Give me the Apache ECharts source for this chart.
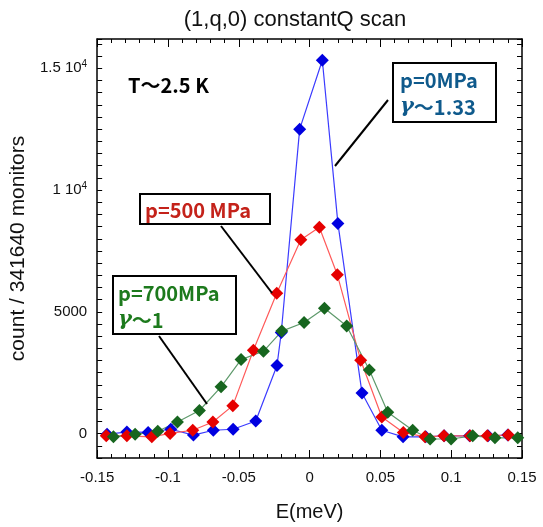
<!DOCTYPE html>
<html><head><meta charset="utf-8">
<script src="https://cdn.jsdelivr.net/npm/echarts@6/dist/echarts.min.js"></script>
<style>html,body{margin:0;padding:0;background:#fff}#c{width:543px;height:527px}</style>
</head><body><div id="c"></div>
<script>
// ---- data ----
const xTickValues = [-0.15, -0.1, -0.05, 0, 0.05, 0.1, 0.15];
const yTickValues = [0, 5000, 10000, 15000];
const yTickLabels = ['0', '5000', '1 10{s|4}', '1.5 10{s|4}'];

const E_0MPa = [-0.143, -0.129, -0.114, -0.098, -0.082, -0.068, -0.054, -0.038, -0.023, -0.020, -0.007, 0.009, 0.020, 0.037, 0.051, 0.066, 0.082, 0.095, 0.113, 0.126, 0.140];
const I_0MPa = [-30, 70, 50, 180, -60, 140, 180, 520, 2800, 4150, 12500, 15330, 8630, 1670, 140, -130, -130, -90, -90, -90, -60];

const E_500MPa = [-0.1436, -0.129, -0.1114, -0.0985, -0.0825, -0.0683, -0.0542, -0.0397, -0.0232, -0.0062, 0.0069, 0.0196, 0.0361, 0.051, 0.0662, 0.0815, 0.0949, 0.1133, 0.1255, 0.1403];
const I_500MPa = [-90, -90, -130, 10, 140, 480, 1150, 3420, 5760, 7960, 8470, 6520, 3010, 680, 50, -130, -90, -90, -90, -60];

const E_700MPa = [-0.1385, -0.1232, -0.1072, -0.0933, -0.0778, -0.0625, -0.0484, -0.0326, -0.0196, -0.0039, 0.0105, 0.0262, 0.0422, 0.0552, 0.0728, 0.0851, 0.0999, 0.1152, 0.1309, 0.147];
const I_700MPa = [-130, -30, 100, 480, 950, 1920, 3040, 3380, 4210, 4560, 5150, 4420, 2610, 880, 140, -220, -220, -90, -170, -170];

const zip = (a, b) => a.map((v, i) => [v, b[i]]);

const chart = echarts.init(document.getElementById('c'), null, {renderer: 'canvas'});
const FONT = 'Liberation Sans';
const ANN = '"Noto Sans CJK JP"';

function xAxisCfg(pos, showLabel) {
  return {
    type: 'value', position: pos, min: -0.15, max: 0.15, interval: 0.05,
    axisLine: {show: true, onZero: false, lineStyle: {color: '#000', width: 1.5}},
    axisTick: {show: true, inside: true, length: 8, lineStyle: {color: '#000', width: 1}},
    minorTick: {show: true, splitNumber: 5, length: 4, lineStyle: {color: '#000', width: 1}},
    splitLine: {show: false},
    axisLabel: {show: showLabel, margin: 12, color: '#111', fontFamily: FONT, fontSize: 15,
      formatter: v => { const m = xTickValues.find(t => Math.abs(t - v) < 1e-9); return m === undefined ? '' : String(m); }},
    name: showLabel ? 'E(meV)' : '', nameLocation: 'middle', nameGap: 44,
    nameTextStyle: {color: '#111', fontFamily: FONT, fontSize: 20}
  };
}
function yAxisCfg(pos, showLabel) {
  return {
    type: 'value', position: pos, min: -1000, max: 16200, interval: 500,
    axisLine: {show: true, onZero: false, lineStyle: {color: '#000', width: 1.5}},
    axisTick: {show: true, inside: true, length: 5, lineStyle: {color: '#000', width: 1}},
    splitLine: {show: false},
    axisLabel: {show: showLabel, margin: 10, color: '#111', fontFamily: FONT, fontSize: 15,
      formatter: v => { const i = yTickValues.indexOf(Math.round(v)); return i < 0 ? '' : yTickLabels[i]; },
      rich: {s: {fontSize: 10, fontFamily: FONT, color: '#111', padding: [0, 0, 8, 0]}}},
    name: showLabel ? 'count / 341640 monitors' : '', nameLocation: 'middle', nameGap: 62,
    nameTextStyle: {color: '#111', fontFamily: FONT, fontSize: 21}
  };
}

function series(name, data, lineColor, markColor) {
  return {
    name, type: 'line', data, xAxisIndex: 0, yAxisIndex: 0,
    symbol: 'diamond', symbolSize: [13, 13], showSymbol: true,
    lineStyle: {color: lineColor, width: 1.2},
    itemStyle: {color: markColor, borderWidth: 0},
    emphasis: {disabled: true}, animation: false
  };
}

function box(x, y, w, h) {
  return {type: 'rect', shape: {x, y, width: w, height: h}, style: {fill: '#fff', stroke: '#000', lineWidth: 2}, z: 100};
}
function label(x, y, text, color) {
  return {type: 'text', x, y, style: {text, fill: color, font: 'bold 20px ' + ANN, textVerticalAlign: 'middle', textAlign: 'left',
    rich: {g: {fill: color, font: 'italic bold 21px "DejaVu Serif"'}}}, z: 101};
}
function leader(x1, y1, x2, y2) {
  return {type: 'line', shape: {x1, y1, x2, y2}, style: {stroke: '#000', lineWidth: 2}, z: 99};
}

chart.setOption({
  animation: false,
  backgroundColor: '#fff',
  title: {text: '(1,q,0) constantQ scan', left: 290, top: 4, textAlign: 'center',
    textStyle: {color: '#111', fontFamily: FONT, fontSize: 22, fontWeight: 'normal'}},
  grid: {left: 97, right: 21, top: 39, bottom: 63, containLabel: false},
  xAxis: [xAxisCfg('bottom', true), xAxisCfg('top', false)],
  yAxis: [yAxisCfg('left', true), yAxisCfg('right', false)],
  series: [
    series('p=0MPa', zip(E_0MPa, I_0MPa), '#3b3bff', '#0000e0'),
    series('p=500MPa', zip(E_500MPa, I_500MPa), '#ff5a5a', '#e60000'),
    series('p=700MPa', zip(E_700MPa, I_700MPa), '#5f9a6c', '#17661f')
  ],
  graphic: [
    {type: 'text', x: 128, y: 85, style: {text: 'T〜2.5 K', fill: '#000', font: 'bold 20px ' + ANN, textVerticalAlign: 'middle'}, z: 101},
    leader(388, 100, 335, 166),
    box(393, 63, 103, 59),
    label(400, 80, 'p=0MPa', '#0f5a8c'),
    label(400, 107, '{g|γ}〜1.33', '#0f5a8c'),
    leader(221, 226, 272, 293),
    box(140, 194, 130, 30),
    label(145, 210, 'p=500 MPa', '#c4221a'),
    leader(159, 336, 207, 404),
    box(113, 276, 123, 58),
    label(118, 293, 'p=700MPa', '#1d7a1d'),
    label(118, 320, '{g|γ}〜1', '#1d7a1d')
  ]
});
</script></body></html>
